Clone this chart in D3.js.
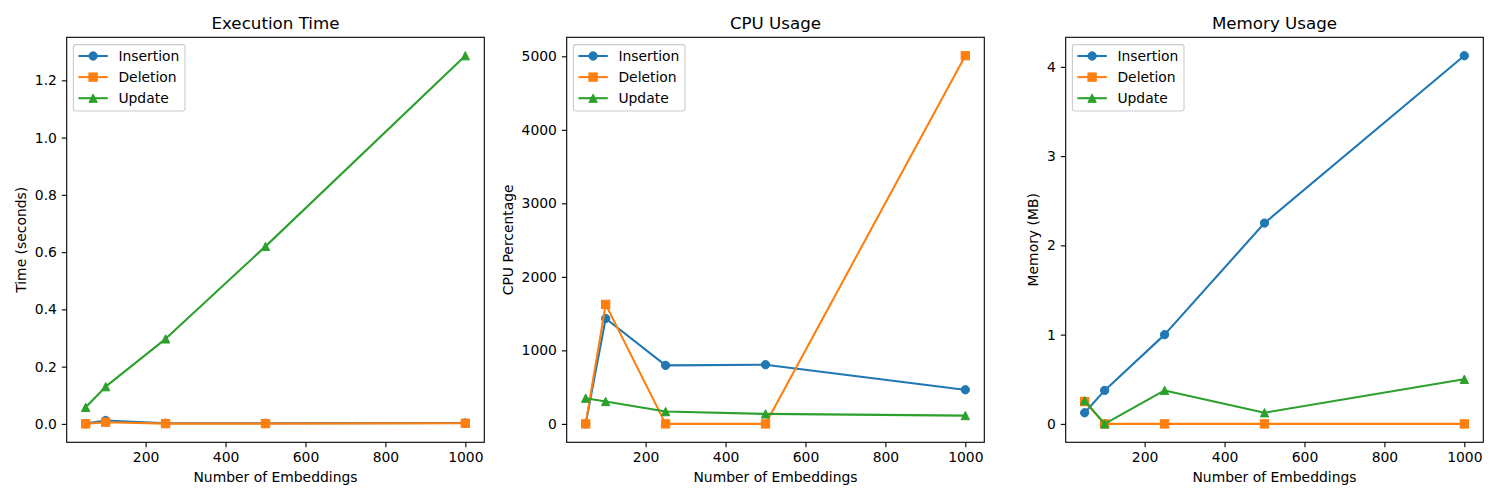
<!DOCTYPE html>
<html>
<head>
<meta charset="utf-8">
<script src="https://cdn.jsdelivr.net/npm/d3@7"></script>
<style>
  body { margin: 0; background: #fff; }
  svg text { font-family: "DejaVu Sans", sans-serif; fill: #000; }
</style>
</head>
<body>
<svg id="chart" width="1500" height="500"></svg>
<script>
// data
const embeddings = [50, 100, 250, 500, 1000];
const seriesNames = ["Insertion", "Deletion", "Update"];
const seriesColors = ["#1f77b4", "#ff7f0e", "#2ca02c"];
const seriesMarkers = ["circle", "square", "triangle"];

const timeInsertion = [0.001, 0.012, 0.002, 0.002, 0.003];
const timeDeletion = [0.0, 0.006, 0.001, 0.001, 0.002];
const timeUpdate = [0.058, 0.13, 0.297, 0.62, 1.286];

const cpuInsertion = [0, 1434, 796, 805, 464];
const cpuDeletion = [0, 1626, 0, 0, 5008];
const cpuUpdate = [350, 305, 168, 136, 113];

const memInsertion = [0.125, 0.375, 1.0, 2.25, 4.125];
const memDeletion = [0.25, 0, 0, 0, 0];
const memUpdate = [0.26, 0, 0.375, 0.125, 0.5];

const xTicks = [200, 400, 600, 800, 1000];
const timeTicks = [0, 0.2, 0.4, 0.6, 0.8, 1.0, 1.2];
const cpuTicks = [0, 1000, 2000, 3000, 4000, 5000];
const memTicks = [0, 1, 2, 3, 4];

const panels = [
  { title: "Execution Time", ylabel: "Time (seconds)", left: 66.7,
    series: [timeInsertion, timeDeletion, timeUpdate], ticks: timeTicks, fmt: d3.format(".1f") },
  { title: "CPU Usage", ylabel: "CPU Percentage", left: 566.7,
    series: [cpuInsertion, cpuDeletion, cpuUpdate], ticks: cpuTicks, fmt: d3.format("d") },
  { title: "Memory Usage", ylabel: "Memory (MB)", left: 1065.7,
    series: [memInsertion, memDeletion, memUpdate], ticks: memTicks, fmt: d3.format("d") }
];

const plotTop = 37.3, plotBottom = 442.3, plotW = 417.6;
const fontSize = 13.9, tickLen = 4.9, tickPad = 4.9, ms = 8.33;

const svg = d3.select("#chart");

function marker(g, kind, x, y, color) {
  if (kind === "circle") {
    g.append("circle").attr("cx", x).attr("cy", y).attr("r", ms / 2)
      .attr("fill", color).attr("stroke", color).attr("stroke-width", 1);
  } else if (kind === "square") {
    g.append("rect").attr("x", x - ms / 2).attr("y", y - ms / 2)
      .attr("width", ms).attr("height", ms)
      .attr("fill", color).attr("stroke", color).attr("stroke-width", 1);
  } else {
    const h = ms / 2;
    g.append("path").attr("d", `M${x},${y - h}L${x - h},${y + h}L${x + h},${y + h}Z`)
      .attr("fill", color).attr("stroke", color).attr("stroke-width", 1);
  }
}

panels.forEach(p => {
  const g = svg.append("g");

  // matplotlib-like 5% margins
  const xSpan = d3.max(embeddings) - d3.min(embeddings);
  const x = d3.scaleLinear()
    .domain([d3.min(embeddings) - 0.05 * xSpan, d3.max(embeddings) + 0.05 * xSpan])
    .range([p.left, p.left + plotW]);
  const all = p.series.flat();
  const ySpan = d3.max(all) - d3.min(all);
  const y = d3.scaleLinear()
    .domain([d3.min(all) - 0.05 * ySpan, d3.max(all) + 0.05 * ySpan])
    .range([plotBottom, plotTop]);

  // lines + markers
  p.series.forEach((vals, i) => {
    const sg = g.append("g");
    const line = d3.line().x((d, j) => x(embeddings[j])).y(d => y(d));
    sg.append("path").datum(vals).attr("d", line)
      .attr("fill", "none").attr("stroke", seriesColors[i]).attr("stroke-width", 2.08)
      .attr("stroke-linejoin", "round").attr("stroke-linecap", "square");
    vals.forEach((v, j) => marker(sg, seriesMarkers[i], x(embeddings[j]), y(v), seriesColors[i]));
  });

  // axes
  const xAxis = g.append("g")
    .attr("transform", `translate(0,${plotBottom})`)
    .call(d3.axisBottom(x).tickValues(xTicks).tickSize(tickLen).tickPadding(tickPad).tickFormat(d3.format("d")));
  const yAxis = g.append("g")
    .attr("transform", `translate(${p.left},0)`)
    .call(d3.axisLeft(y).tickValues(p.ticks).tickSize(tickLen).tickPadding(tickPad).tickFormat(p.fmt));
  [xAxis, yAxis].forEach(a => {
    a.attr("font-family", null).attr("font-size", fontSize);
    a.select(".domain").remove();
    a.selectAll(".tick line").attr("stroke", "#000").attr("stroke-width", 1.1);
  });

  // frame
  g.append("rect").attr("x", p.left).attr("y", plotTop)
    .attr("width", plotW).attr("height", plotBottom - plotTop)
    .attr("fill", "none").attr("stroke", "#000").attr("stroke-width", 1.1);

  // title and labels
  g.append("text").attr("x", p.left + plotW / 2).attr("y", 29)
    .attr("text-anchor", "middle").attr("font-size", 16.7).text(p.title);
  g.append("text").attr("x", p.left + plotW / 2).attr("y", 482)
    .attr("text-anchor", "middle").attr("font-size", fontSize).text("Number of Embeddings");

  let maxW = 0;
  yAxis.selectAll(".tick text").each(function () { maxW = Math.max(maxW, this.getBBox().width); });
  const lx = p.left - tickLen - tickPad - maxW - 5.6 - 3.2;
  g.append("text").attr("transform", `translate(${lx},${(plotTop + plotBottom) / 2}) rotate(-90)`)
    .attr("text-anchor", "middle").attr("font-size", fontSize).text(p.ylabel);

  // legend
  const lg = g.append("g");
  const bx = p.left + 6.7, by = plotTop + 7.3;
  const box = lg.append("rect").attr("x", bx).attr("y", by).attr("height", 66.4)
    .attr("rx", 2.5).attr("fill", "#fff").attr("fill-opacity", 0.8)
    .attr("stroke", "#cccccc").attr("stroke-width", 1.1);
  let textW = 0;
  seriesNames.forEach((name, i) => {
    const cy = by + 11.4 + i * 21.1;
    lg.append("line").attr("x1", bx + 5).attr("x2", bx + 34.4).attr("y1", cy).attr("y2", cy)
      .attr("stroke", seriesColors[i]).attr("stroke-width", 2.08);
    marker(lg, seriesMarkers[i], bx + 19.7, cy, seriesColors[i]);
    const t = lg.append("text").attr("x", bx + 45).attr("y", cy + 5)
      .attr("font-size", fontSize).text(name);
    textW = Math.max(textW, t.node().getBBox().width);
  });
  box.attr("width", 45 + textW + 5.6);
});
</script>
</body>
</html>
